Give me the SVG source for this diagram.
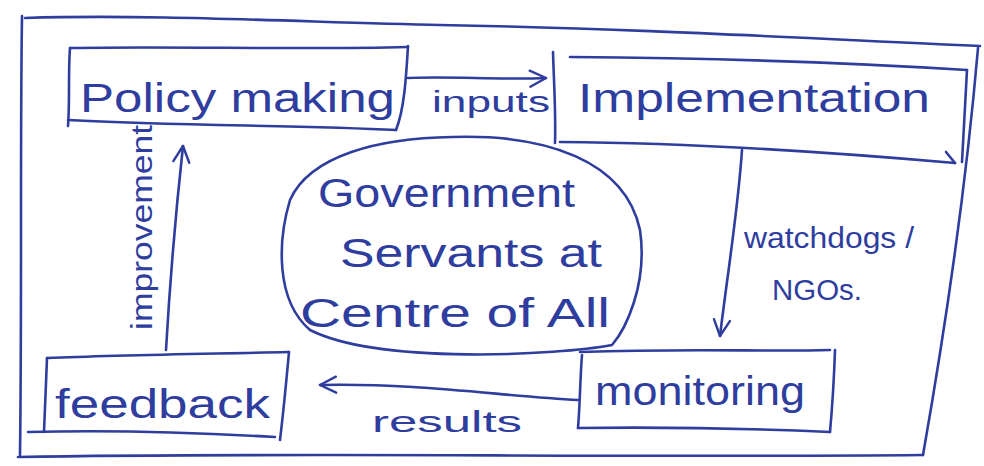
<svg xmlns="http://www.w3.org/2000/svg" width="984" height="466" viewBox="0 0 984 466">
  <defs>
    <style>
      .ink { fill: none; stroke: #2e3d9e; stroke-width: 2.6; stroke-linecap: round; stroke-linejoin: round; }
      .lbl { fill: #2e3d9e; font-family: "Liberation Sans", "DejaVu Sans", sans-serif; }
      .big { font-size: 40px; }
      .mid { font-size: 30px; }
      .sm { font-size: 26px; }
    </style>
    <marker id="head" viewBox="0 0 20 20" refX="18" refY="10" markerWidth="20" markerHeight="20" markerUnits="userSpaceOnUse" orient="auto">
      <path d="M2,2 L18,10 L2,18" fill="none" stroke="#2e3d9e" stroke-width="2.4" stroke-linecap="round" stroke-linejoin="round"/>
    </marker>
  </defs>
  <rect width="984" height="466" fill="#ffffff"/>

  <!-- outer frame -->
  <g id="frame">
    <path class="ink" d="M22,16 C20,150 22,300 20,455"/>
    <path class="ink" d="M25,18 C150,14 300,22 440,25 C620,28 800,38 980,46"/>
    <path class="ink" d="M978,48 C965,200 945,330 923,455"/>
    <path class="ink" d="M18,457 C300,452 600,458 923,455"/>
  </g>

  <!-- nodes -->
  <g id="policy-making">
    <path class="ink" d="M70,48 C68,75 70,100 68,126"/>
    <path class="ink" d="M70,48 C180,46 300,50 408,47"/>
    <path class="ink" d="M408,46 C406,80 404,110 396,130"/>
    <path class="ink" d="M68,120 C180,126 300,125 396,130"/>
    <text class="lbl big" x="80" y="112" textLength="315" lengthAdjust="spacingAndGlyphs">Policy   making</text>
  </g>

  <g id="implementation">
    <path class="ink" d="M553,52 C554,85 556,115 555,143"/>
    <path class="ink" d="M570,57 C700,58 840,62 967,70"/>
    <path class="ink" d="M967,70 C965,110 963,140 962,162"/>
    <path class="ink" d="M560,142 C700,143 830,152 955,163"/>
    <path class="ink" d="M946,152 L955,163"/>
    <text class="lbl big" x="578" y="112" textLength="352" lengthAdjust="spacingAndGlyphs">Implementation</text>
  </g>

  <g id="government-servants">
    <path class="ink" d="M452,137 C545,134 625,160 640,230 C648,285 625,330 612,345 C560,355 380,365 310,330 C275,300 278,240 290,200 C310,155 380,138 452,137 Z"/>
    <text class="lbl big" x="318" y="207" textLength="257" lengthAdjust="spacingAndGlyphs">Government</text>
    <text class="lbl big" x="340" y="267" textLength="262" lengthAdjust="spacingAndGlyphs">Servants  at</text>
    <text class="lbl big" x="300" y="327" textLength="310" lengthAdjust="spacingAndGlyphs">Centre  of  All</text>
  </g>

  <g id="monitoring">
    <path class="ink" d="M580,352 C700,348 760,352 830,350"/>
    <path class="ink" d="M835,350 C834,380 832,410 830,432"/>
    <path class="ink" d="M582,355 C580,380 580,405 578,428"/>
    <path class="ink" d="M578,428 C660,427 740,428 830,432"/>
    <text class="lbl big" x="595" y="405" textLength="210" lengthAdjust="spacingAndGlyphs">monitoring</text>
  </g>

  <g id="feedback">
    <path class="ink" d="M47,358 C120,355 200,354 289,352"/>
    <path class="ink" d="M47,358 C46,385 45,410 44,432"/>
    <path class="ink" d="M289,352 C286,385 283,415 280,440"/>
    <path class="ink" d="M28,432 C110,430 190,432 275,437"/>
    <text class="lbl big" x="55" y="418" textLength="215" lengthAdjust="spacingAndGlyphs">feedback</text>
  </g>

  <!-- connectors -->
  <g id="connectors">
    <path class="ink" d="M408,78 C450,76 500,80 546,78" marker-end="url(#head)"/>
    <path class="ink" d="M742,150 C738,210 728,270 720,336" marker-end="url(#head)"/>
    <path class="ink" d="M578,400 C500,396 420,383 320,385" marker-end="url(#head)"/>
    <path class="ink" d="M166,350 C170,280 176,210 183,146" marker-end="url(#head)"/>
  </g>

  <!-- connector labels -->
  <g id="connector-labels">
    <text class="lbl mid" x="432" y="112" textLength="118" lengthAdjust="spacingAndGlyphs">inputs</text>
    <text class="lbl mid" x="744" y="248" textLength="170" lengthAdjust="spacingAndGlyphs">watchdogs /</text>
    <text class="lbl mid" x="772" y="300" textLength="90" lengthAdjust="spacingAndGlyphs">NGOs.</text>
    <text class="lbl mid" x="372" y="432" textLength="150" lengthAdjust="spacingAndGlyphs">results</text>
    <text class="lbl mid" transform="translate(152,330) rotate(-90)" x="0" y="0" textLength="205" lengthAdjust="spacingAndGlyphs">improvement</text>
  </g>
</svg>
